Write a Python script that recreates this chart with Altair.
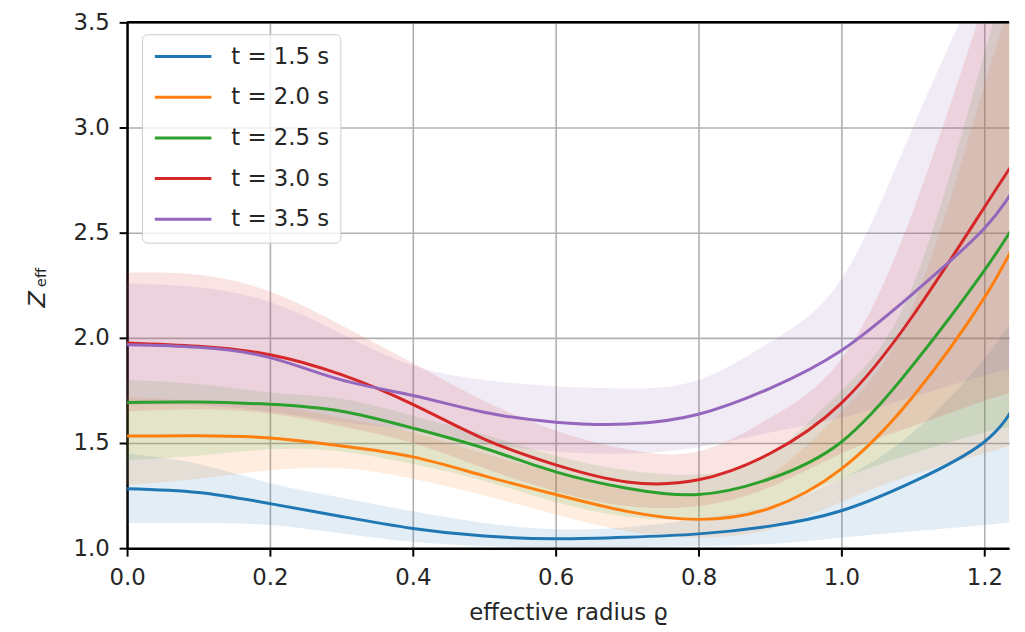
import altair as alt
import pandas as pd

# effective radius sample points
rho = [0.0, 0.1, 0.2, 0.3, 0.4, 0.5, 0.6, 0.7, 0.8, 0.9, 1.0, 1.1, 1.2, 1.25]

labels = ["t = 1.5 s", "t = 2.0 s", "t = 2.5 s", "t = 3.0 s", "t = 3.5 s"]
colors = ["#1f77b4", "#ff7f0e", "#2ca02c", "#d62728", "#9467bd"]

# Z_eff profiles (central values)
z_15 = [1.283, 1.265, 1.212, 1.151, 1.094, 1.058, 1.045, 1.052, 1.068, 1.105, 1.178, 1.315, 1.505, 1.720]
z_20 = [1.533, 1.535, 1.524, 1.486, 1.434, 1.344, 1.255, 1.175, 1.137, 1.190, 1.377, 1.720, 2.190, 2.500]
z_25 = [1.693, 1.695, 1.684, 1.651, 1.571, 1.475, 1.363, 1.285, 1.255, 1.330, 1.505, 1.870, 2.320, 2.580]
z_30 = [1.976, 1.960, 1.920, 1.825, 1.684, 1.519, 1.396, 1.315, 1.325, 1.450, 1.690, 2.105, 2.620, 2.880]
z_35 = [1.967, 1.955, 1.906, 1.800, 1.726, 1.646, 1.599, 1.590, 1.637, 1.760, 1.940, 2.210, 2.520, 2.760]

# uncertainty bands (lower / upper)
lo_15 = [1.12, 1.12, 1.11, 1.07, 1.03, 1.01, 1.005, 1.005, 1.01, 1.02, 1.05, 1.08, 1.11, 1.13]
hi_15 = [1.45, 1.40, 1.31, 1.24, 1.175, 1.12, 1.09, 1.10, 1.14, 1.20, 1.33, 1.55, 1.90, 2.15]
lo_20 = [1.30, 1.33, 1.37, 1.38, 1.33, 1.25, 1.16, 1.08, 1.05, 1.09, 1.22, 1.35, 1.45, 1.50]
hi_20 = [1.72, 1.70, 1.68, 1.62, 1.55, 1.45, 1.36, 1.28, 1.25, 1.35, 1.65, 2.15, 3.20, 3.70]
lo_25 = [1.42, 1.44, 1.47, 1.46, 1.40, 1.32, 1.22, 1.15, 1.14, 1.20, 1.33, 1.45, 1.55, 1.58]
hi_25 = [1.80, 1.78, 1.74, 1.71, 1.63, 1.54, 1.44, 1.37, 1.35, 1.45, 1.75, 2.25, 3.35, 3.90]
lo_30 = [1.65, 1.66, 1.64, 1.58, 1.50, 1.38, 1.27, 1.20, 1.20, 1.29, 1.45, 1.58, 1.70, 1.75]
hi_30 = [2.31, 2.30, 2.22, 2.06, 1.88, 1.70, 1.56, 1.47, 1.46, 1.62, 1.90, 2.60, 3.60, 4.10]
lo_35 = [1.68, 1.68, 1.65, 1.60, 1.56, 1.50, 1.46, 1.45, 1.48, 1.55, 1.62, 1.72, 1.82, 1.86]
hi_35 = [2.26, 2.24, 2.17, 2.02, 1.87, 1.80, 1.77, 1.76, 1.80, 1.98, 2.28, 3.00, 3.75, 4.10]

x_ticks = [0.0, 0.2, 0.4, 0.6, 0.8, 1.0, 1.2]
y_ticks = [1.0, 1.5, 2.0, 2.5, 3.0, 3.5]

mids = [z_15, z_20, z_25, z_30, z_35]
los = [lo_15, lo_20, lo_25, lo_30, lo_35]
his = [hi_15, hi_20, hi_25, hi_30, hi_35]

rows = []
for k, (lab, m, l, h) in enumerate(zip(labels, mids, los, his)):
    for x, mv, lv, hv in zip(rho, m, l, h):
        rows.append({"rho": x, "series": lab, "order": k, "mid": mv, "lo": lv, "hi": hv})
df = pd.DataFrame(rows)

W, H = 889, 530
FONT = "DejaVu Sans"
TXT = "#262626"

xscale = alt.Scale(domain=[0.0, W / 720.0], nice=False, zero=False)
yscale = alt.Scale(domain=[1.0, 3.5], nice=False, zero=False)
cscale = alt.Scale(domain=labels, range=colors)

legend = alt.Legend(
    title=None, orient="none", legendX=15, legendY=12,
    symbolType="M-1,0H5", symbolSize=361, symbolStrokeWidth=3, symbolOpacity=1,
    labelFont=FONT, labelFontSize=23, labelColor=TXT, labelOffset=56,
    rowPadding=17, padding=11, fillColor="rgba(255,255,255,0.8)",
    strokeColor="#cccccc", cornerRadius=5)

x_axis = alt.Axis(values=x_ticks, format=".1f", title="effective radius ϱ",
                  grid=True, gridColor="#b0b0b0", gridWidth=1.6,
                  domainColor="black", domainWidth=2.5,
                  tickColor="black", tickWidth=2, tickSize=8,
                  labelFont=FONT, labelFontSize=23, labelColor=TXT, labelPadding=11,
                  labelFlush=False,
                  titleFont=FONT, titleFontSize=23, titleFontWeight="normal",
                  titleColor=TXT, titlePadding=12)
y_axis = alt.Axis(values=y_ticks, format=".1f", title="Z",
                  grid=True, gridColor="#b0b0b0", gridWidth=1.6,
                  domainColor="black", domainWidth=2.5,
                  tickColor="black", tickWidth=2, tickSize=8,
                  labelFont=FONT, labelFontSize=23, labelColor=TXT, labelPadding=10,
                  labelFlush=False,
                  titleFont=FONT, titleFontSize=24, titleFontWeight="normal",
                  titleFontStyle="italic", titleColor=TXT,
                  titleAngle=270, titleAlign="left", titleBaseline="alphabetic",
                  titleX=-83, titleY=287)

bands = alt.Chart(df).mark_area(opacity=0.13, interpolate="natural", clip=True).encode(
    x=alt.X("rho:Q", scale=xscale, axis=x_axis),
    y=alt.Y("lo:Q", scale=yscale, axis=y_axis),
    y2="hi:Q",
    color=alt.Color("series:N", scale=cscale, legend=legend),
    detail="series:N",
    order="order:Q",
)

lines = alt.Chart(df).mark_line(strokeWidth=3, interpolate="natural", clip=True).encode(
    x=alt.X("rho:Q", scale=xscale),
    y=alt.Y("mid:Q", scale=yscale),
    color=alt.Color("series:N", scale=cscale, legend=legend),
    order="order:Q",
)

top_spine = alt.Chart(pd.DataFrame({"a": [0]})).mark_rule(color="black", strokeWidth=2.5).encode(
    x=alt.value(0), x2=alt.value(W), y=alt.value(0))

sub = alt.Chart(pd.DataFrame({"t": ["eff"]})).mark_text(
    angle=270, align="left", baseline="alphabetic", fontSize=15, font=FONT, color=TXT
).encode(x=alt.value(-82), y=alt.value(267), text="t:N")

chart = alt.layer(bands, lines, top_spine, sub).properties(
    width=W, height=H,
    autosize=alt.AutoSizeParams(type="none"),
    padding={"left": 120, "top": 12, "right": 8, "bottom": 80},
).configure_view(stroke=None)

chart.save("out.html", embed_options={"renderer": "svg", "actions": False})
